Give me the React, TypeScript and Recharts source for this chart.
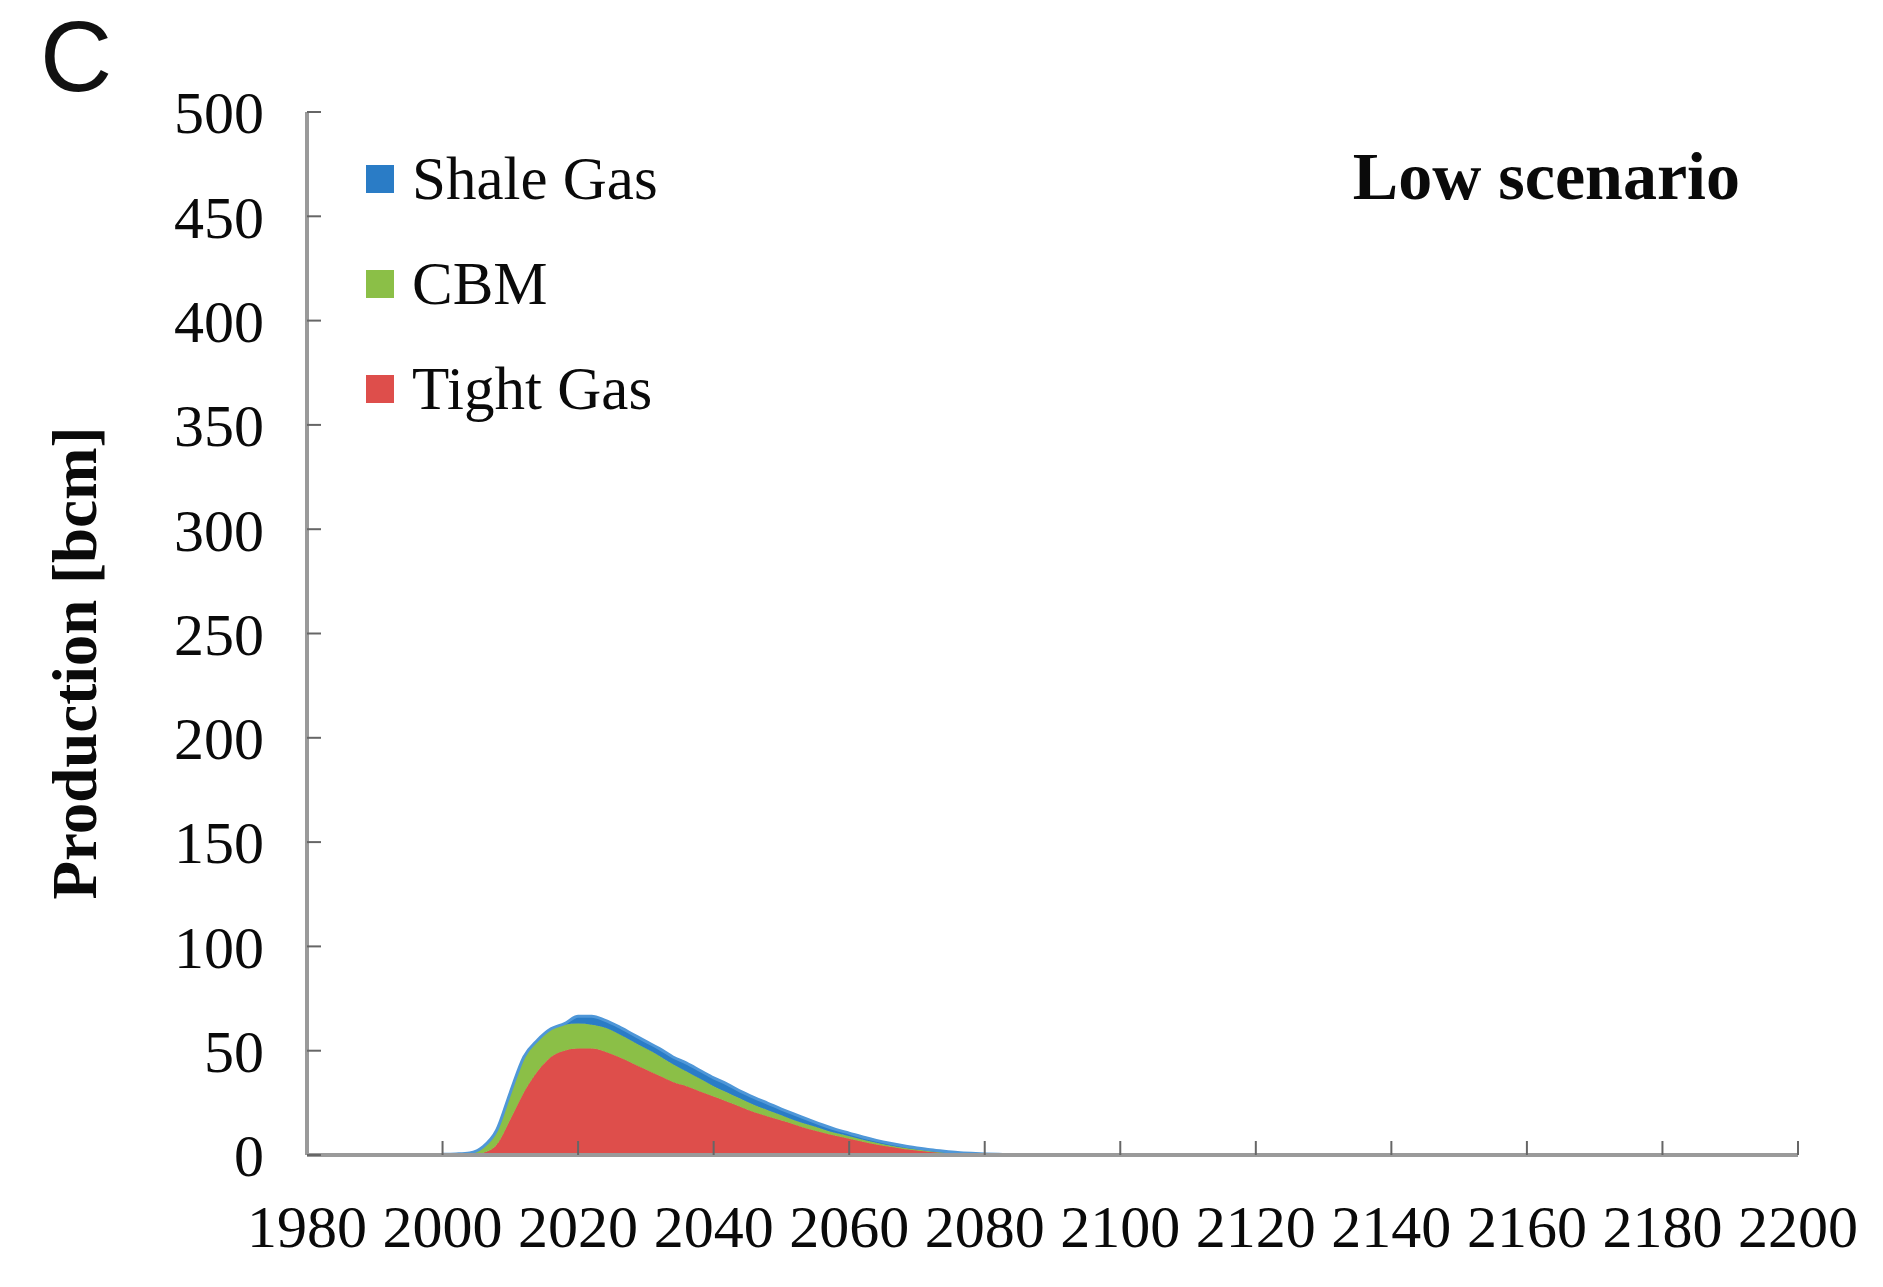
import React from 'react';
import { ComposedChart, Area, XAxis, YAxis } from 'recharts';

const years = [2000, 2002, 2004, 2006, 2008, 2010, 2012, 2014, 2016, 2018, 2020, 2022, 2024, 2026, 2028, 2030, 2032, 2034, 2036, 2038, 2040, 2042, 2044, 2046, 2048, 2050, 2052, 2054, 2056, 2058, 2060, 2062, 2064, 2066, 2068, 2070, 2072, 2074, 2076, 2078, 2080, 2082, 2084, 2086];
const tightGas = [0, 0, 0, 1, 5, 17, 30, 40, 47, 50, 51, 51, 49.5, 47, 44, 41, 38, 35, 33, 30.5, 28, 25.5, 23, 20.5, 18.5, 16.5, 14.5, 12.5, 10.8, 9.2, 7.8, 6.3, 5, 3.9, 2.9, 2.1, 1.4, 0.9, 0.5, 0.2, 0, 0, 0, 0];
const cbm = [0.3, 0.5, 1, 3, 7, 13, 17, 15, 13.5, 12.5, 12, 11.5, 11.5, 11, 10.5, 10, 9.5, 8.5, 7, 6, 5, 4.5, 4, 3.5, 3, 2.5, 2, 2, 1.7, 1.3, 1.2, 1, 0.9, 0.7, 0.6, 0.5, 0.4, 0.3, 0.2, 0.2, 0.2, 0.1, 0, 0];
const shaleGas = [0, 0, 0, 0, 0, 0, 0, 0, 0, 0.5, 3.5, 4, 3.5, 3.5, 3.5, 3.5, 3.5, 3.5, 4, 4, 4, 4, 3.5, 3.5, 3.3, 3, 3, 2.5, 2, 1.8, 1.5, 1.3, 1.1, 1, 0.9, 0.8, 0.7, 0.6, 0.5, 0.4, 0.3, 0.2, 0.1, 0];

const xTicks = [1980, 2000, 2020, 2040, 2060, 2080, 2100, 2120, 2140, 2160, 2180, 2200];
const yTicks = [0, 50, 100, 150, 200, 250, 300, 350, 400, 450, 500];

const seriesNames = ['Tight Gas', 'CBM', 'Shale Gas'];
const seriesKeys = ['tight', 'cbm', 'shale'];
const seriesColors = ['#de4e4b', '#8bbf47', '#2a7cc6'];
const legendOrder = ['Shale Gas', 'CBM', 'Tight Gas'];

const data = years.map((y, i) => ({ year: y, tight: tightGas[i], cbm: cbm[i], shale: shaleGas[i] }));

const AXIS = '#9a9a9a';
const SERIF = '"Liberation Serif", "Times New Roman", serif';

export default function App() {
  return (
    <div style={{ position: 'absolute', left: 0, top: 0, width: 1883, height: 1287, background: '#fff' }}>
      <ComposedChart width={1883} height={1287} data={data} margin={{ top: 112, right: 85, bottom: 0, left: 0 }}>
        <XAxis
          dataKey="year"
          type="number"
          domain={[1980, 2200]}
          ticks={xTicks}
          interval={0}
          height={132}
          axisLine={{ stroke: AXIS, strokeWidth: 4 }}
          tickLine={{ stroke: '#666', strokeWidth: 2 }}
          tickSize={-14}
          tickMargin={63}
          tick={{ fill: '#0a0a0a', fontSize: 60, fontFamily: SERIF }}
        />
        <XAxis xAxisId="top" orientation="top" type="number" domain={[1980, 2200]} height={0} tick={false} tickLine={false} axisLine={{ stroke: AXIS, strokeWidth: 4 }} />
        <YAxis
          type="number"
          domain={[0, 500]}
          ticks={yTicks}
          interval={0}
          width={307}
          axisLine={{ stroke: AXIS, strokeWidth: 4 }}
          tickLine={{ stroke: '#666', strokeWidth: 2 }}
          tickSize={-14}
          tickMargin={57}
          tick={{ fill: '#0a0a0a', fontSize: 60, fontFamily: SERIF }}
        />
        <YAxis yAxisId="right" orientation="right" type="number" domain={[0, 500]} width={0} tick={false} tickLine={false} axisLine={{ stroke: AXIS, strokeWidth: 4 }} />
        {seriesKeys.map((k, i) => (
          <Area
            key={k}
            type="monotone"
            dataKey={k}
            name={seriesNames[i]}
            stackId="1"
            stroke={k === 'shale' ? '#4f97d8' : seriesColors[i]}
            strokeWidth={k === 'shale' ? 3 : 1}
            fill={seriesColors[i]}
            fillOpacity={1}
            isAnimationActive={false}
          />
        ))}
      </ComposedChart>
      <div style={{ position: 'absolute', left: 366, top: 126, fontFamily: SERIF }}>
        {legendOrder.map((name) => (
          <div key={name} style={{ display: 'flex', alignItems: 'center', height: 105 }}>
            <div style={{ width: 28, height: 28, background: seriesColors[seriesNames.indexOf(name)], marginRight: 18 }} />
            <span style={{ fontSize: 61, color: '#0a0a0a' }}>{name}</span>
          </div>
        ))}
      </div>
      <div style={{ position: 'absolute', left: 40, top: 6, fontFamily: '"Liberation Sans", Arial, sans-serif', fontSize: 100, color: '#111', lineHeight: 1 }}>C</div>
      <div style={{ position: 'absolute', right: 1883 - 1740, top: 142, fontFamily: SERIF, fontWeight: 'bold', fontSize: 68, color: '#0a0a0a', lineHeight: 1 }}>Low scenario</div>
      <svg style={{ position: 'absolute', left: 0, top: 0 }} width={150} height={1287}>
        <text x={96} y={663} transform="rotate(-90 96 663)" textAnchor="middle" fontFamily={SERIF} fontWeight="bold" fontSize={63} fill="#0a0a0a">Production [bcm]</text>
      </svg>
    </div>
  );
}
